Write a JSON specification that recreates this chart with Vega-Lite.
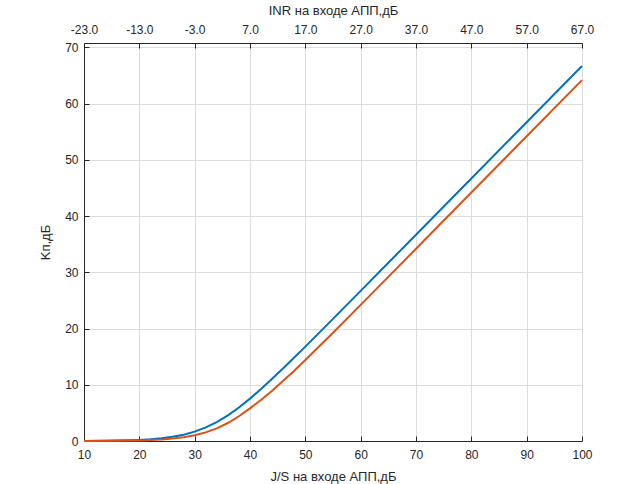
{
  "$schema": "https://vega.github.io/schema/vega-lite/v6.json",
  "autosize": {"type": "none"},
  "width": 498,
  "height": 398,
  "padding": {"left": 84, "top": 43, "right": 62, "bottom": 43},
  "data": {
    "values": [
      {"js": 10, "k": 0.02, "series": "a"},
      {"js": 14, "k": 0.05, "series": "a"},
      {"js": 18, "k": 0.13, "series": "a"},
      {"js": 20, "k": 0.2, "series": "a"},
      {"js": 22, "k": 0.31, "series": "a"},
      {"js": 24, "k": 0.48, "series": "a"},
      {"js": 26, "k": 0.74, "series": "a"},
      {"js": 28, "k": 1.12, "series": "a"},
      {"js": 30, "k": 1.67, "series": "a"},
      {"js": 32, "k": 2.41, "series": "a"},
      {"js": 34, "k": 3.37, "series": "a"},
      {"js": 36, "k": 4.57, "series": "a"},
      {"js": 38, "k": 5.97, "series": "a"},
      {"js": 40, "k": 7.54, "series": "a"},
      {"js": 42, "k": 9.25, "series": "a"},
      {"js": 44, "k": 11.06, "series": "a"},
      {"js": 46, "k": 12.93, "series": "a"},
      {"js": 48, "k": 14.84, "series": "a"},
      {"js": 50, "k": 16.79, "series": "a"},
      {"js": 55, "k": 21.73, "series": "a"},
      {"js": 60, "k": 26.71, "series": "a"},
      {"js": 65, "k": 31.7, "series": "a"},
      {"js": 70, "k": 36.7, "series": "a"},
      {"js": 80, "k": 46.7, "series": "a"},
      {"js": 90, "k": 56.7, "series": "a"},
      {"js": 100, "k": 66.7, "series": "a"},
      {"js": 10, "k": 0.01, "series": "b"},
      {"js": 14, "k": 0.03, "series": "b"},
      {"js": 18, "k": 0.07, "series": "b"},
      {"js": 20, "k": 0.11, "series": "b"},
      {"js": 22, "k": 0.18, "series": "b"},
      {"js": 24, "k": 0.28, "series": "b"},
      {"js": 26, "k": 0.43, "series": "b"},
      {"js": 28, "k": 0.67, "series": "b"},
      {"js": 30, "k": 1.01, "series": "b"},
      {"js": 32, "k": 1.53, "series": "b"},
      {"js": 34, "k": 2.25, "series": "b"},
      {"js": 36, "k": 3.2, "series": "b"},
      {"js": 38, "k": 4.4, "series": "b"},
      {"js": 40, "k": 5.8, "series": "b"},
      {"js": 42, "k": 7.3, "series": "b"},
      {"js": 44, "k": 8.95, "series": "b"},
      {"js": 46, "k": 10.7, "series": "b"},
      {"js": 48, "k": 12.5, "series": "b"},
      {"js": 50, "k": 14.4, "series": "b"},
      {"js": 55, "k": 19.27, "series": "b"},
      {"js": 60, "k": 24.21, "series": "b"},
      {"js": 65, "k": 29.2, "series": "b"},
      {"js": 70, "k": 34.2, "series": "b"},
      {"js": 80, "k": 44.2, "series": "b"},
      {"js": 90, "k": 54.2, "series": "b"},
      {"js": 100, "k": 64.2, "series": "b"}
    ]
  },
  "layer": [
    {
      "transform": [{"filter": "datum.series === 'a'"}],
      "mark": {"type": "line", "color": "#0072BD", "strokeWidth": 2},
      "encoding": {
        "x": {
          "field": "js",
          "type": "quantitative",
          "scale": {"domain": [10, 100], "nice": false, "zero": false},
          "axis": {
            "orient": "bottom",
            "title": "J/S на входе АПП,дБ",
            "values": [10, 20, 30, 40, 50, 60, 70, 80, 90, 100],
            "grid": true,
            "labelPadding": 13,
            "titlePadding": 10
          }
        },
        "y": {
          "field": "k",
          "type": "quantitative",
          "scale": {"domain": [0, 70.8], "nice": false},
          "axis": {
            "title": "Kп,дБ",
            "values": [0, 10, 20, 30, 40, 50, 60, 70],
            "grid": true,
            "labelPadding": 11,
            "titlePadding": 12
          }
        }
      }
    },
    {
      "transform": [{"filter": "datum.series === 'b'"}],
      "mark": {"type": "line", "color": "#D95319", "strokeWidth": 2},
      "encoding": {
        "x": {
          "field": "js",
          "type": "quantitative",
          "scale": {"domain": [10, 100], "nice": false, "zero": false},
          "axis": {
            "orient": "top",
            "title": "INR на входе АПП,дБ",
            "values": [10, 20, 30, 40, 50, 60, 70, 80, 90, 100],
            "labelExpr": "replace(format(datum.value - 33, '.1f'), '−', '-')",
            "grid": false,
            "labelPadding": 12,
            "titlePadding": 6
          }
        },
        "y": {
          "field": "k",
          "type": "quantitative",
          "scale": {"domain": [0, 70.8], "nice": false}
        }
      }
    }
  ],
  "resolve": {"scale": {"x": "independent"}},
  "config": {
    "view": {"stroke": null},
    "font": "Liberation Sans",
    "axis": {
      "labelFont": "Liberation Sans",
      "titleFont": "Liberation Sans",
      "labelFontSize": 12,
      "titleFontSize": 13,
      "titleFontWeight": "normal",
      "labelColor": "#262626",
      "titleColor": "#262626",
      "domainColor": "#262626",
      "tickColor": "#262626",
      "gridColor": "#dcdcdc",
      "tickSize": -5,
      "labelFlush": false,
      "labelOverlap": false
    }
  }
}
